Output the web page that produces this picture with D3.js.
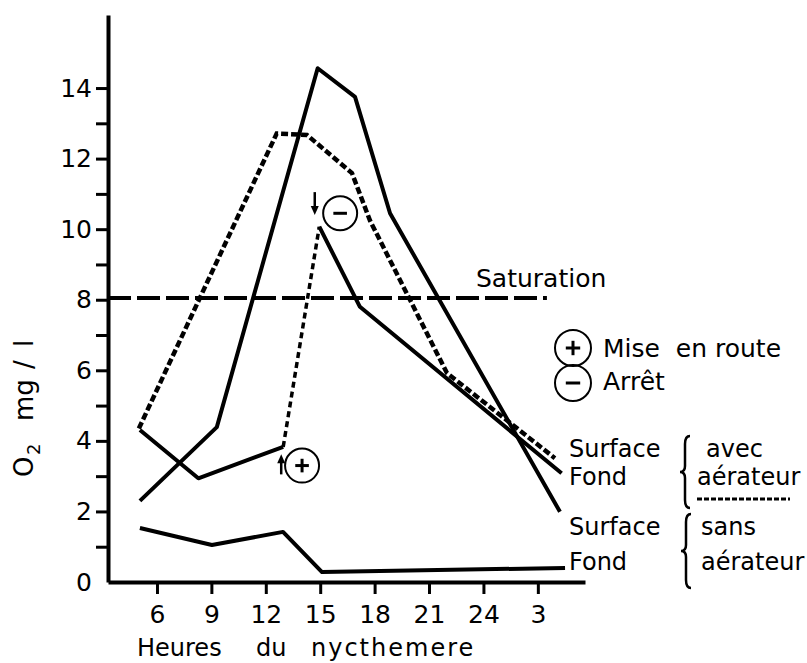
<!DOCTYPE html>
<html><head><meta charset="utf-8">
<script src="https://cdn.jsdelivr.net/npm/d3@7"></script>
<style>
body{margin:0;background:#fff}
svg{display:block}
text{font-family:"DejaVu Sans",sans-serif;fill:#000}
</style>
</head><body>
<svg id="c" width="807" height="663"></svg>
<script>
// ---------- data ----------
const xTicks = [6, 9, 12, 15, 18, 21, 24, 27];
const xTickLabels = ["6", "9", "12", "15", "18", "21", "24", "3"];
const yTicks = [0, 1, 2, 3, 4, 5, 6, 7, 8, 9, 10, 11, 12, 13, 14];
const yTickLabels = ["0", "", "2", "", "4", "", "6", "", "8", "", "10", "", "12", "", "14"];

const surfaceSansHours = [5.06, 9.3, 14.86, 16.92, 18.85, 28.22];
const surfaceSansO2    = [2.3, 4.39, 14.56, 13.75, 10.45, 1.99];

const fondSansHours = [5.06, 9.03, 12.95, 15.1, 28.5];
const fondSansO2    = [1.53, 1.05, 1.42, 0.28, 0.40];

const surfaceAvecHours = [5.0, 12.6, 14.27, 16.75, 17.74, 21.99, 27.94];
const surfaceAvecO2    = [4.35, 12.71, 12.67, 11.59, 10.25, 5.92, 3.51];

const fondAvecAvantHours = [5.06, 8.28, 12.96];
const fondAvecAvantO2    = [4.31, 2.94, 3.83];
const fondAvecTransitionHours = [12.96, 14.95];
const fondAvecTransitionO2    = [3.83, 10.07];
const fondAvecApresHours = [14.95, 17.19, 28.31];
const fondAvecApresO2    = [10.07, 7.80, 3.08];

const saturationO2 = 8.05;
const saturationHours = [3.3, 27.5];

const miseEnRoute = {hour: 14.0, o2: 3.3, arrowHour: 12.85, arrowFrom: 3.05, arrowTo: 3.62};
const arret = {hour: 16.1, o2: 10.45, arrowHour: 14.7, arrowFrom: 11.05, arrowTo: 10.4};

// ---------- layout ----------
const svg = d3.select("#c");
const x = d3.scaleLinear().domain([3.3, 29.6]).range([108, 585]);
const y = d3.scaleLinear().domain([0, 16.07]).range([582, 15]);

const pts = (hs, vs) => hs.map((h, i) => [h, vs[i]]);
const line = d3.line().x(d => x(d[0])).y(d => y(d[1]));

// axes
const yAxis = d3.axisLeft(y).tickValues(yTicks).tickSize(12).tickSizeOuter(0).tickPadding(4)
  .tickFormat((d, i) => yTickLabels[i]);
const gy = svg.append("g").attr("transform", "translate(108,0)").call(yAxis);
const xAxis = d3.axisBottom(x).tickValues(xTicks).tickSize(12).tickSizeOuter(0).tickPadding(11)
  .tickFormat((d, i) => xTickLabels[i]);
const gx = svg.append("g").attr("transform", "translate(0,582)").call(xAxis);
[gx, gy].forEach(g => {
  g.select(".domain").attr("stroke", "#000").attr("stroke-width", 4);
  g.selectAll(".tick line").attr("stroke", "#000").attr("stroke-width", 3);
  g.selectAll(".tick text").attr("font-size", 25).attr("font-family", "DejaVu Sans").attr("fill", "#000");
});
gy.selectAll(".tick").filter(d => d === 0).select("line").remove();

// saturation
svg.append("path").attr("d", line(saturationHours.map(h => [h, saturationO2])))
  .attr("fill", "none").attr("stroke", "#000").attr("stroke-width", 4).attr("stroke-dasharray", "23,6");

// series
const solid = (hs, vs) => svg.append("path").attr("d", line(pts(hs, vs)))
  .attr("fill", "none").attr("stroke", "#000").attr("stroke-width", 4).attr("stroke-linejoin", "round");
solid(surfaceSansHours, surfaceSansO2);
solid(fondSansHours, fondSansO2);
solid(fondAvecAvantHours, fondAvecAvantO2);
solid(fondAvecApresHours, fondAvecApresO2);
svg.append("path").attr("d", line(pts(surfaceAvecHours, surfaceAvecO2)))
  .attr("fill", "none").attr("stroke", "#000").attr("stroke-width", 4.5).attr("stroke-dasharray", "7,3");
svg.append("path").attr("d", line(pts(fondAvecTransitionHours, fondAvecTransitionO2)))
  .attr("fill", "none").attr("stroke", "#000").attr("stroke-width", 3.5).attr("stroke-dasharray", "6,4");

// markers
function sign(cx, cy, r, plus) {
  svg.append("circle").attr("cx", cx).attr("cy", cy).attr("r", r)
    .attr("fill", "none").attr("stroke", "#000").attr("stroke-width", 2);
  svg.append("line").attr("x1", cx - r * 0.4).attr("x2", cx + r * 0.4).attr("y1", cy).attr("y2", cy)
    .attr("stroke", "#000").attr("stroke-width", 3);
  if (plus) svg.append("line").attr("x1", cx).attr("x2", cx).attr("y1", cy - r * 0.4).attr("y2", cy + r * 0.4)
    .attr("stroke", "#000").attr("stroke-width", 3);
}
function arrow(xp, y1, y2) {
  const dir = Math.sign(y2 - y1);
  svg.append("line").attr("x1", xp).attr("x2", xp).attr("y1", y1).attr("y2", y2 - dir * 6)
    .attr("stroke", "#000").attr("stroke-width", 2.5);
  svg.append("path").attr("d", `M${xp - 4},${y2 - dir * 9} L${xp + 4},${y2 - dir * 9} L${xp},${y2} Z`).attr("fill", "#000");
}
sign(x(miseEnRoute.hour), y(miseEnRoute.o2), 17, true);
arrow(x(miseEnRoute.arrowHour), y(miseEnRoute.arrowFrom), y(miseEnRoute.arrowTo));
sign(x(arret.hour), y(arret.o2), 17, false);
arrow(x(arret.arrowHour), y(arret.arrowFrom), y(arret.arrowTo));

// texts
const T = (tx, ty, s, size = 24) => svg.append("text").attr("x", tx).attr("y", ty).attr("font-size", size).text(s);
T(476, 287, "Saturation", 25);
sign(573, 348, 18, true);
sign(573, 383, 18, false);
T(603, 357, "Mise  en route", 25).style("white-space", "pre");
T(603, 390, "Arrêt", 25);

T(569, 457, "Surface");
T(569, 485, "Fond");
T(569, 535, "Surface");
T(569, 570, "Fond");
T(706, 457, "avec");
T(697, 485, "aérateur");
T(701, 535, "sans");
T(701, 570, "aérateur");
svg.append("line").attr("x1", 697).attr("x2", 790).attr("y1", 499).attr("y2", 499)
  .attr("stroke", "#000").attr("stroke-width", 3).attr("stroke-dasharray", "5,2");

function brace(bx, y1, y2) {
  const ym = (y1 + y2) / 2;
  const d = `M${bx + 5},${y1} Q${bx},${y1} ${bx},${y1 + 8} L${bx},${ym - 6} Q${bx},${ym} ${bx - 5},${ym} Q${bx},${ym} ${bx},${ym + 6} L${bx},${y2 - 8} Q${bx},${y2} ${bx + 5},${y2}`;
  svg.append("path").attr("d", d).attr("fill", "none").attr("stroke", "#000").attr("stroke-width", 2.5);
}
brace(685, 436, 508);
brace(686, 514, 588);

T(137, 656, "Heures");
T(256, 656, "du");
T(311, 656, "nycthemere").attr("letter-spacing", 2);

const yl = svg.append("g").attr("transform", "translate(33,477) rotate(-90)");
yl.append("text").attr("x", 0).attr("y", 0).attr("font-size", 26).text("O");
yl.append("text").attr("x", 22).attr("y", 7).attr("font-size", 18).text("2");
yl.append("text").attr("x", 56).attr("y", 0).attr("font-size", 26).text("mg");
yl.append("text").attr("x", 108).attr("y", 0).attr("font-size", 26).text("/");
yl.append("text").attr("x", 130).attr("y", 0).attr("font-size", 26).text("l");
</script>
</body></html>
